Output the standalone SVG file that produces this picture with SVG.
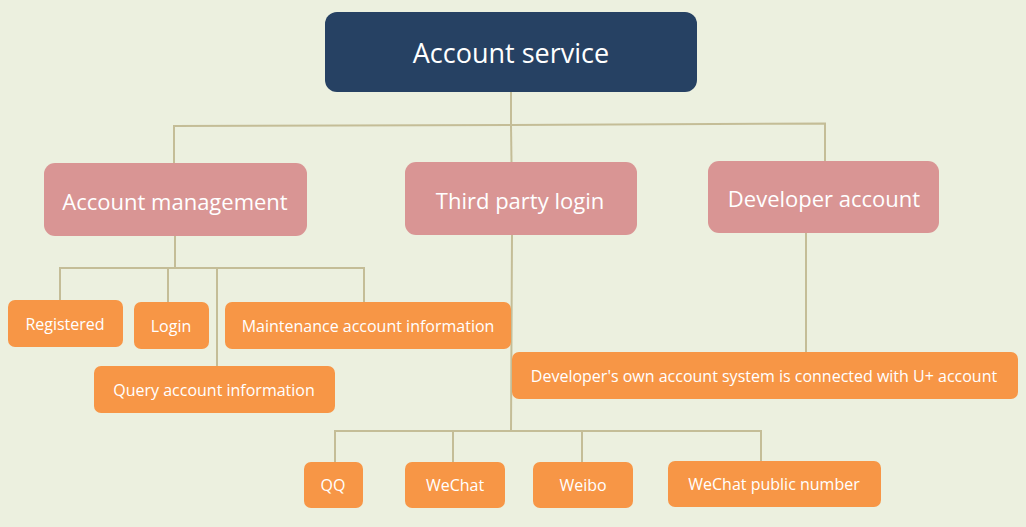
<svg xmlns="http://www.w3.org/2000/svg" width="1026" height="527" viewBox="0 0 1026 527">
<style>
.bg{fill:#ECF0DF}
.root{fill:#264163}
.mid{fill:#D99594}
.leaf{fill:#F79646}
.ln{stroke:#C4BD97;stroke-width:2;fill:none}
text{font-family:"Open Sans","Noto Sans","DejaVu Sans",sans-serif;fill:#FFFFFF;text-anchor:middle}
.t1{font-size:27px}
.t2{font-size:22px}
.t3{font-size:16px}
</style>
<rect class="bg" x="0" y="0" width="1026" height="527"/>
<g id="connectors">
<path class="ln" d="M511 92 V125"/>
<path class="ln" d="M174 163 V126 L511 125 L825 123.5 V161"/>
<path class="ln" d="M511 125 L511.5 162"/>
<path class="ln" d="M175 236 V268 M60 300 V268 H364 V302 M168 268 V302 M217 268 V366"/>
<path class="ln" d="M512 235 L511 431 M335 462 V431 H761 V461 M453 431 V462 M582 431 V462"/>
<path class="ln" d="M806 233 V352"/>
</g>
<g id="n-root"><rect class="root" x="325" y="12" width="372" height="80" rx="12"/><text class="t1" x="511" y="63">Account service</text></g>
<g id="n-acct-mgmt"><rect class="mid" x="44" y="163" width="263" height="73" rx="11"/><text class="t2" x="175" y="210">Account management</text></g>
<g id="n-third"><rect class="mid" x="405" y="162" width="232" height="73" rx="11"/><text class="t2" x="520" y="209">Third party login</text></g>
<g id="n-dev"><rect class="mid" x="708" y="161" width="231" height="72" rx="11"/><text class="t2" x="824" y="207">Developer account</text></g>
<g id="n-registered"><rect class="leaf" x="8" y="300" width="115" height="47" rx="7"/><text class="t3" x="65" y="330">Registered</text></g>
<g id="n-login"><rect class="leaf" x="134" y="302" width="75" height="47" rx="7"/><text class="t3" x="171" y="332">Login</text></g>
<g id="n-maint"><rect class="leaf" x="225" y="302" width="286" height="47" rx="7"/><text class="t3" x="368" y="332">Maintenance account information</text></g>
<g id="n-query"><rect class="leaf" x="94" y="366" width="241" height="47" rx="7"/><text class="t3" x="214" y="396">Query account information</text></g>
<g id="n-devown"><rect class="leaf" x="512" y="352" width="506" height="47" rx="7"/><text class="t3" x="764" y="382">Developer's own account system is connected with U+ account</text></g>
<g id="n-qq"><rect class="leaf" x="304" y="462" width="59" height="46" rx="7"/><text class="t3" x="333" y="491">QQ</text></g>
<g id="n-wechat"><rect class="leaf" x="405" y="462" width="100" height="46" rx="7"/><text class="t3" x="455" y="491">WeChat</text></g>
<g id="n-weibo"><rect class="leaf" x="533" y="462" width="100" height="46" rx="7"/><text class="t3" x="583" y="491">Weibo</text></g>
<g id="n-wcpub"><rect class="leaf" x="668" y="461" width="213" height="46" rx="7"/><text class="t3" x="774" y="490">WeChat public number</text></g>
</svg>
